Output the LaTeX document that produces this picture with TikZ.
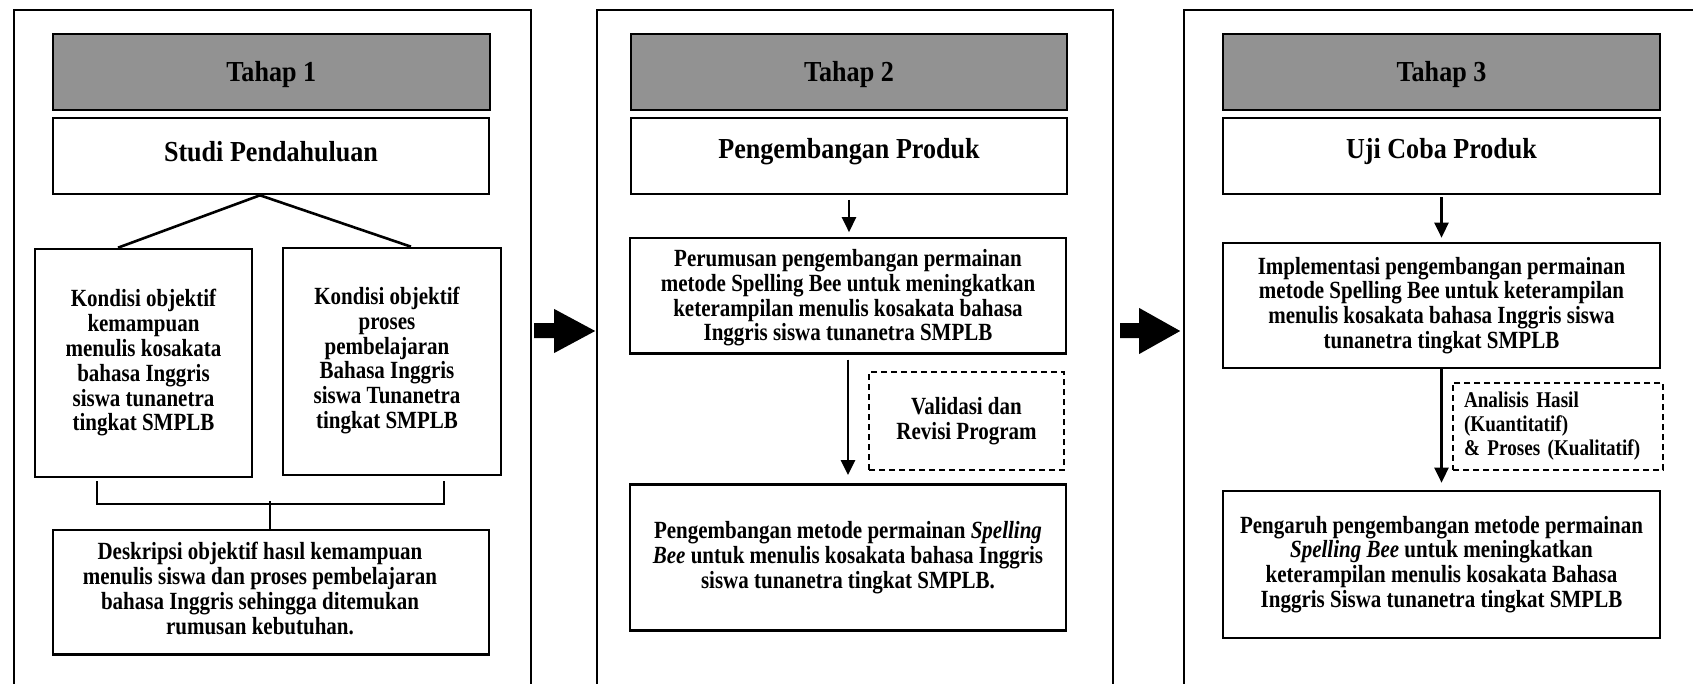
\documentclass[tikz,border=0pt]{standalone}
\usepackage{fontspec}
\setmainfont{Liberation Serif}
\newfontfamily\bodyfont{Liberation Serif}[FakeStretch=0.85]
\newfontfamily\titlefont{Liberation Serif}[FakeStretch=0.9]
\usetikzlibrary{arrows.meta,calc}
\definecolor{headgray}{RGB}{146,146,146}
\newcommand{\shiftedtext}[3]{\raisebox{#2}[\height][\depth]{\hspace*{#1}\begin{tabular}{@{}c@{}}#3\end{tabular}}}
\begin{document}
\begin{tikzpicture}[x=1pt,y=-1pt,
  panel/.style={draw, line width=2.2pt, rectangle, inner sep=0pt, anchor=north west},
  box/.style={draw, line width=2.6pt, fill=white, rectangle, inner sep=0pt, align=center,
    font=\bodyfont\fontsize{24.7}{24.8}\selectfont\bfseries},
  headbox/.style={box, fill=headgray, font=\titlefont\fontsize{29}{31}\selectfont\bfseries},
  titlebox/.style={box, font=\titlefont\fontsize{29}{31}\selectfont\bfseries},
  dbox/.style={box, dash pattern=on 6pt off 4pt, line width=2.2pt},
  arr/.style={line width=2.4pt, -{Triangle[width=14pt,length=15pt]}},
  ln/.style={line width=2.6pt},
  bigarrow/.style={fill=black}
]
\clip (0,0) rectangle (1693,684);
\fill[white] (0,0) rectangle (1693,684);

% panels
\node[panel, minimum width=517.5pt, minimum height=720pt] (P1) at (12.5,9) {};
\node[panel, minimum width=516pt, minimum height=720pt] (P2) at (596,9) {};
\node[panel, minimum width=600pt, minimum height=720pt] (P3) at (1183,9) {};

% panel 1
\node[headbox, minimum width=437pt, minimum height=76pt] (H1) at (271.3,72)
  {\raisebox{-3pt}[\height][\depth]{Tahap 1}};
\node[titlebox, minimum width=436pt, minimum height=76pt] (S1) at (271,156)
  {\raisebox{4.5pt}[\height][\depth]{Studi Pendahuluan}};
\node[box, minimum width=217pt, minimum height=228pt] (K1) at (143.5,363)
  {Kondisi objektif\\kemampuan\\menulis kosakata\\bahasa Inggris\\siswa tunanetra\\tingkat SMPLB};
\node[box, minimum width=218pt, minimum height=227pt] (K2) at (392,361.5)
  {\shiftedtext{-10pt}{0pt}{Kondisi objektif\\proses\\pembelajaran\\Bahasa Inggris\\siswa Tunanetra\\tingkat SMPLB}};
\node[box, minimum width=436pt, minimum height=124.5pt] (D1) at (271,592.2)
  {\shiftedtext{-22pt}{0pt}{Deskripsi objektif hasıl kemampuan\\menulis siswa dan proses pembelajaran\\bahasa Inggris sehingga ditemukan\\rumusan kebutuhan.}};

\draw[ln] ($(S1.south)+(-11,0)$) -- ($(K1.north)+(-25.5,0)$);
\draw[ln] ($(S1.south)+(-11,0)$) -- ($(K2.north)+(19,0)$);
\draw[ln] ($(K1.south)+(-46.5,3)$) -- ++(0,22.6) -| ($(K2.south)+(52,5)$);
\draw[ln] ($(D1.north)+(-1,0)$) -- ++(0,-27.4);

% panel 2
\node[headbox, minimum width=436pt, minimum height=76pt] (H2) at (849,72)
  {\raisebox{-3pt}[\height][\depth]{Tahap 2}};
\node[titlebox, minimum width=436pt, minimum height=76pt] (S2) at (849,156)
  {\raisebox{4.5pt}[\height][\depth]{Pengembangan Produk}};
\node[box, minimum width=436pt, minimum height=115.4pt] (R2) at (848,295.7)
  {\shiftedtext{0pt}{-3pt}{Perumusan pengembangan permainan\\metode Spelling Bee untuk meningkatkan\\keterampilan menulis kosakata bahasa\\Inggris siswa tunanetra SMPLB}};
\node[dbox, minimum width=195pt, minimum height=98pt] (V2) at (966.5,421)
  {Validasi dan\\Revisi Program};
\node[box, minimum width=436pt, minimum height=146pt] (B2) at (848,557.4)
  {Pengembangan metode permainan \textit{Spelling}\\\textit{Bee} untuk menulis kosakata bahasa Inggris\\siswa tunanetra tingkat SMPLB.};

\draw[arr] ([yshift=-4.5pt]S2.south) -- ([yshift=4.5pt]S2.south |- R2.north);
\draw[arr] ([yshift=-5pt]R2.south) -- ([yshift=8pt]R2.south |- B2.north);

% panel 3
\node[headbox, minimum width=437pt, minimum height=76pt] (H3) at (1441.5,72)
  {\raisebox{-3pt}[\height][\depth]{Tahap 3}};
\node[titlebox, minimum width=437pt, minimum height=76pt] (S3) at (1441.5,156)
  {\raisebox{4.5pt}[\height][\depth]{Uji Coba Produk}};
\node[box, minimum width=437pt, minimum height=125pt] (I3) at (1441.5,305.5)
  {Implementasi pengembangan permainan\\metode Spelling Bee untuk keterampilan\\menulis kosakata bahasa Inggris siswa\\tunanetra tingkat SMPLB};
\node[dbox, minimum width=210pt, minimum height=87.4pt, text width=188pt, align=left,
  font=\bodyfont\fontsize{22.5}{24}\selectfont\bfseries] (A3) at (1558,426.3)
  {Analisis Hasil\\(Kuantitatif)\\\& Proses (Kualitatif)};
\node[box, minimum width=437pt, minimum height=147pt] (B3) at (1441.5,564.5)
  {Pengaruh pengembangan metode permainan\\\textit{Spelling Bee} untuk meningkatkan\\keterampilan menulis kosakata Bahasa\\Inggris Siswa tunanetra tingkat SMPLB};

\draw[arr] ([yshift=-2pt]S3.south) -- ([yshift=4pt]I3.north);
\draw[arr] (I3.south) -- ([yshift=7pt]B3.north);

% big arrows between panels
\fill[bigarrow] ($(P1.north east)+(2,314)$) -- ++(20,0) -- ++(0,-14) -- ++(41,22) -- ++(-41,22)
  -- ++(0,-15) -- ++(-20,0) -- cycle;
\fill[bigarrow] ($(P2.north east)+(6,314)$) -- ++(19,0) -- ++(0,-15) -- ++(41,23) -- ++(-41,23)
  -- ++(0,-16) -- ++(-19,0) -- cycle;
\end{tikzpicture}
\end{document}
